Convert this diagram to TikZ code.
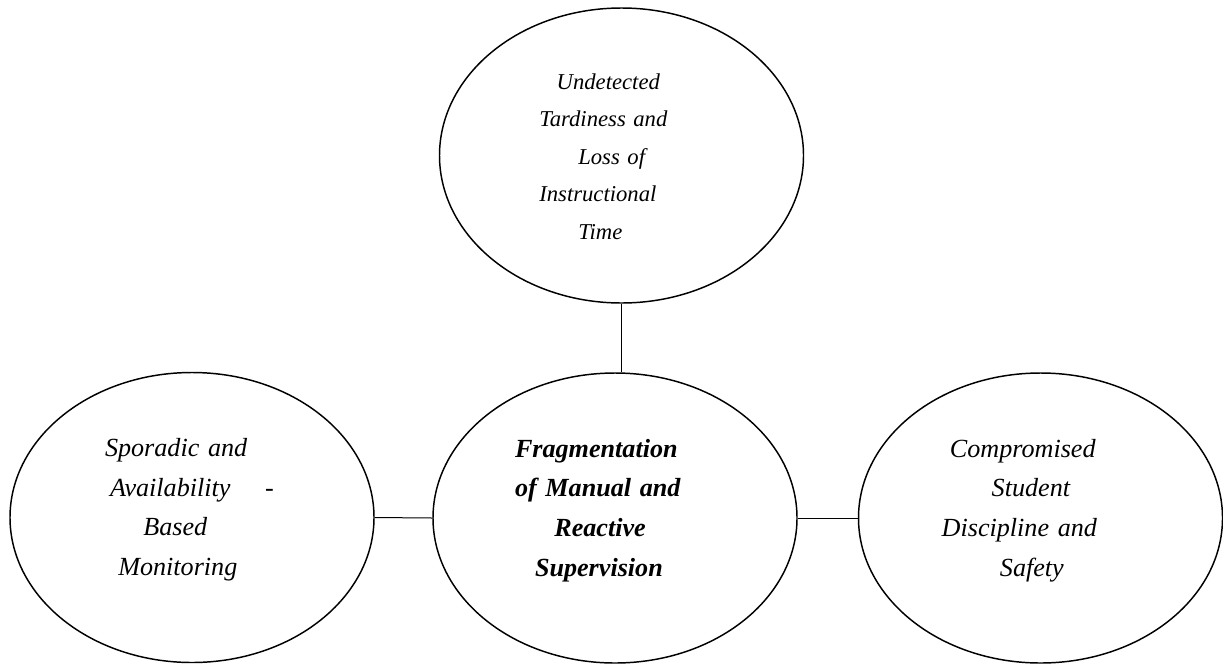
\documentclass[tikz,border=0pt]{standalone}
\usepackage{fontspec}
\setmainfont{Liberation Serif}
\usetikzlibrary{shapes.geometric}

\tikzset{every picture/.style={line width=0.75pt}}
\tikzset{
  bubble/.style={draw, ellipse, line width=1.1pt, inner sep=0pt, align=left,
    minimum width=273pt, minimum height=217.5pt, text width=165pt,
    text height=13.5pt, text depth=105pt,
    font=\itshape\fontsize{19.6}{29.8}\selectfont},
  topbubble/.style={bubble, minimum height=221.25pt, text width=135pt,
    text height=12pt, text depth=111.3pt,
    font=\itshape\fontsize{17}{28.1}\selectfont},
  link/.style={line width=0.75pt}
}

\begin{document}
\begin{tikzpicture}[x=0.75pt,y=0.75pt,yscale=-1,xscale=1]
\useasboundingbox (0,0) rectangle (1223,664);

%Shape: Ellipse [top]
\node[topbubble] (loss) at (621.5,155.5) {\hspace*{18.9pt}Undetected\\ \hspace*{5.85pt}Tardiness and\\ \hspace*{35.1pt}Loss of\\ \hspace*{5.85pt}Instructional\\ \hspace*{35.1pt}Time};
%Shape: Ellipse [left]
\node[bubble, text width=150pt] (monitor) at (192,517.5) {\hspace*{9.75pt}Sporadic and\\ \hspace*{13.5pt}Availability\hspace{26pt}-\\ \hspace*{38.5pt}Based\\ \hspace*{19.7pt}Monitoring};
%Shape: Ellipse [centre]
\node[bubble, font=\bfseries\itshape\fontsize{19.6}{29.8}\selectfont] (core) at (615,518) {\hspace*{7.5pt}Fragmentation\\ \hspace*{7.5pt}of Manual and\\ \hspace*{37pt}Reactive\\ \hspace*{22.5pt}Supervision};
%Shape: Ellipse [right]
\node[bubble] (safety) at (1040.5,518) {\hspace*{14.6pt}Compromised\\ \hspace*{45.9pt}Student\\ \hspace*{8.4pt}Discipline and\\ \hspace*{52.1pt}Safety};

%Straight Lines
\draw[link] (loss.south) -- (loss.south |- core.north);
\draw[link] (monitor.east) -- (core.west);
\draw[link] (core.east) -- (safety.west);

\end{tikzpicture}
\end{document}
